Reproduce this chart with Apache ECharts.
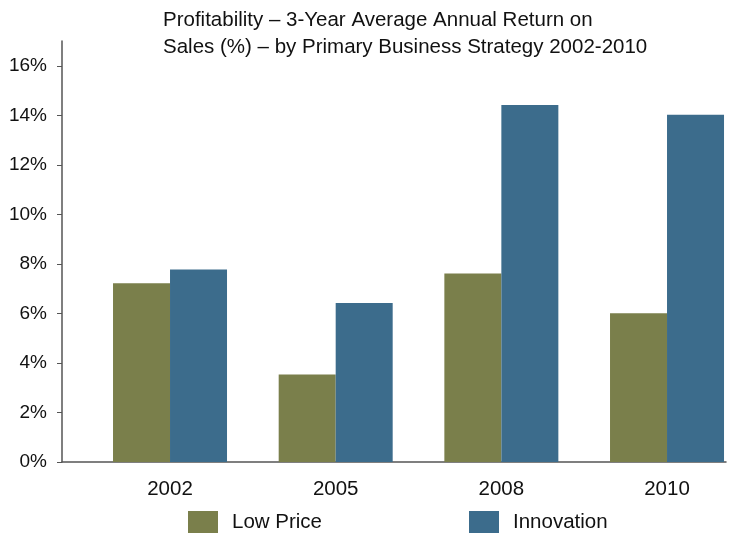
<!DOCTYPE html>
<html>
<meta charset="UTF-8">
<title>profitability</title>
<style type="text/css">
    html,
    body {
        margin: 0px;
        height: 100%;
        width: 100%;
        background: #fff;
    }

    #chart {
        width: 734px;
        height: 533px;
    }
</style>
<script src="https://cdn.jsdelivr.net/npm/echarts@6/dist/echarts.min.js"></script>

<body>
    <div id="chart"></div>
    <script>

        const years = ['2002', '2005', '2008', '2010'];
        const lowPrice = [7.22, 3.53, 7.61, 6.01];
        const innovation = [7.77, 6.42, 14.42, 14.02];
        const yTicks = [0, 2, 4, 6, 8, 10, 12, 14, 16];

        const font = 'Liberation Sans, Arial, Helvetica, sans-serif';

        const chart = echarts.init(document.querySelector('#chart'));
        const options = {
            animation: false,
            title: {
                text: 'Profitability \u2013 3-Year Average Annual Return on\nSales (%) \u2013 by Primary Business Strategy 2002-2010',
                left: 163,
                top: 7,
                padding: 0,
                textStyle: {
                    fontFamily: font,
                    fontSize: 20.5,
                    fontWeight: 'normal',
                    color: '#111',
                    lineHeight: 27
                }
            },
            legend: {
                left: 188,
                top: 511,
                padding: 0,
                itemWidth: 30,
                itemHeight: 22,
                itemGap: 147,
                icon: 'rect',
                textStyle: {
                    fontFamily: font,
                    fontSize: 20.5,
                    color: '#111',
                    padding: [0, 0, 0, 9]
                }
            },
            grid: {
                left: 62,
                right: 8,
                top: 41,
                bottom: 71
            },
            xAxis: {
                type: 'value',
                min: -0.652,
                max: 3.356,
                splitLine: { show: false },
                axisLine: { show: true, lineStyle: { color: '#555', width: 1.5 } },
                axisTick: { show: false },
                axisLabel: {
                    customValues: years.map((d, i) => i),
                    formatter: (v) => years[Math.round(v)],
                    fontFamily: font,
                    fontSize: 20.5,
                    color: '#111',
                    margin: 17
                }
            },
            yAxis: {
                type: 'value',
                min: 0,
                max: 17,
                splitLine: { show: false },
                axisLine: { show: true, onZero: false, lineStyle: { color: '#555', width: 1.5 } },
                axisTick: {
                    show: true,
                    length: 5,
                    customValues: yTicks,
                    lineStyle: { color: '#555' }
                },
                axisLabel: {
                    customValues: yTicks,
                    formatter: '{value}%',
                    fontFamily: font,
                    fontSize: 19,
                    color: '#111',
                    margin: 15,
                    padding: [0, 0, 6, 0]
                }
            },
            series: [
                {
                    name: 'Low Price',
                    type: 'bar',
                    barWidth: 57,
                    barGap: '0%',
                    itemStyle: { color: '#7a7f4b' },
                    data: lowPrice.map((v, i) => [i, v])
                },
                {
                    name: 'Innovation',
                    type: 'bar',
                    barWidth: 57,
                    barGap: '0%',
                    itemStyle: { color: '#3c6c8c' },
                    data: innovation.map((v, i) => [i, v])
                }
            ]
        };
        chart.setOption(options);

    </script>
</body>

</html>
